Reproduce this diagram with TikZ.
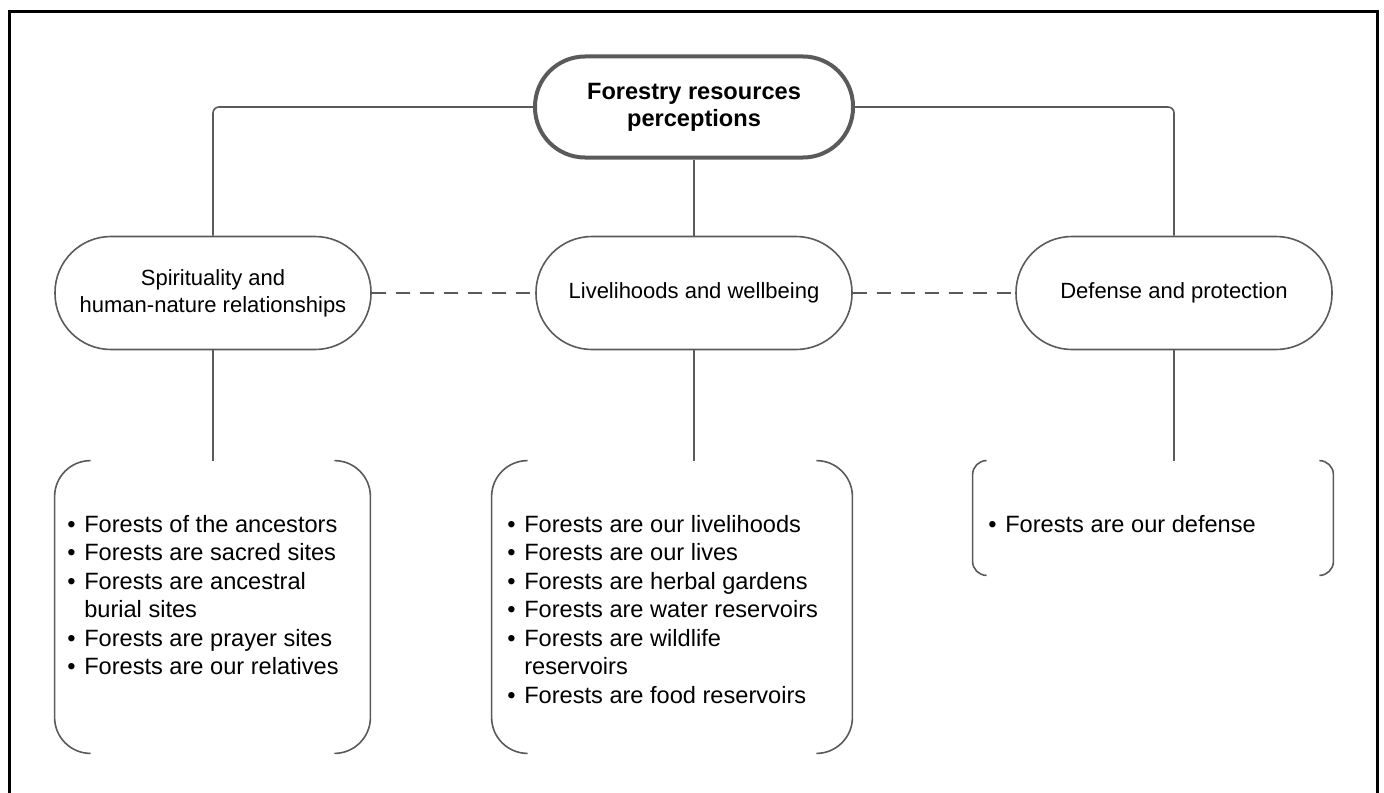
\documentclass[tikz,border=0pt]{standalone}
\usepackage{fontspec}
\setmainfont{Liberation Sans}
\usetikzlibrary{positioning}
\definecolor{linegray}{HTML}{5A5A5A}
\tikzset{
  topnode/.style={draw=linegray, line width=2pt, rounded corners=25pt, minimum width=159pt, minimum height=50.5pt, align=center, font=\fontsize{11.8}{13.5}\selectfont\bfseries},
  themenode/.style={draw=linegray, line width=0.8pt, rounded corners=28pt, minimum width=158pt, minimum height=56.5pt, align=center, font=\fontsize{11}{13.5}\selectfont},
  listframe/.style={inner sep=0pt},
  listtext/.style={anchor=north west, inner sep=0pt, font=\fontsize{11.8}{14.25}\selectfont},
  link/.style={draw=linegray, line width=0.8pt},
  dashlink/.style={link, dash pattern=on 7pt off 5pt}
}
\begin{document}
\begin{tikzpicture}[x=0.5pt,y=-0.5pt]
  \useasboundingbox (0,0) rectangle (1384,792);
  \draw[line width=1.5pt] (9,800) |- (1377,12) -- (1377,800);

  % top and themes
  \node[topnode] (top) at (694,107) {Forestry resources\\perceptions};
  \node[themenode] (spirit) at (213,293) {Spirituality and\\human-nature relationships};
  \node[themenode] (live) at (694,293) {Livelihoods and wellbeing};
  \node[themenode] (defense) at (1174,293) {Defense and protection};

  \draw[link, rounded corners=3pt] (spirit.north) |- (top.west);
  \draw[link, rounded corners=3pt] (defense.north) |- (top.east);
  \draw[link] (top.south) -- (live.north);
  \draw[dashlink] (spirit.east) -- (live.west);
  \draw[dashlink] (live.east) -- (defense.west);

  % bracket frames
  \node[listframe, minimum width=157.5pt, minimum height=146pt] (spiritlist) at (212.5,607) {};
  \node[listframe, minimum width=180pt, minimum height=146pt] (livelist) at (672,607) {};
  \node[listframe, minimum width=180pt, minimum height=57pt] (defenselist) at (1153,518) {};

  \foreach \n/\r in {spiritlist/18pt, livelist/18pt, defenselist/7pt} {
    \draw[link, rounded corners=\r] ([xshift=\r]\n.north west) -- (\n.north west) -- (\n.south west) -- ([xshift=\r]\n.south west);
    \draw[link, rounded corners=\r] ([xshift=-\r]\n.north east) -- (\n.north east) -- (\n.south east) -- ([xshift=-\r]\n.south east);
  }

  \draw[link] (spirit.south) -- (spirit.south |- spiritlist.north);
  \draw[link] (live.south) -- (live.south |- livelist.north);
  \draw[link] (defense.south) -- (defense.south |- defenselist.north);

  % lists
  \node[listtext] (spirittext) at (67,512) {\begin{tabular}{@{}l@{\hspace{4.3pt}}l@{}}
    \textbullet & Forests of the ancestors\\
    \textbullet & Forests are sacred sites\\
    \textbullet & Forests are ancestral\\
                & burial sites\\
    \textbullet & Forests are prayer sites\\
    \textbullet & Forests are our relatives
  \end{tabular}};
  \node[listtext] (livetext) at (507,512) {\begin{tabular}{@{}l@{\hspace{4.3pt}}l@{}}
    \textbullet & Forests are our livelihoods\\
    \textbullet & Forests are our lives\\
    \textbullet & Forests are herbal gardens\\
    \textbullet & Forests are water reservoirs\\
    \textbullet & Forests are wildlife\\
                & reservoirs\\
    \textbullet & Forests are food reservoirs
  \end{tabular}};
  \node[listtext] (defensetext) at (988,512) {\begin{tabular}{@{}l@{\hspace{4.3pt}}l@{}}
    \textbullet & Forests are our defense
  \end{tabular}};
\end{tikzpicture}
\end{document}
